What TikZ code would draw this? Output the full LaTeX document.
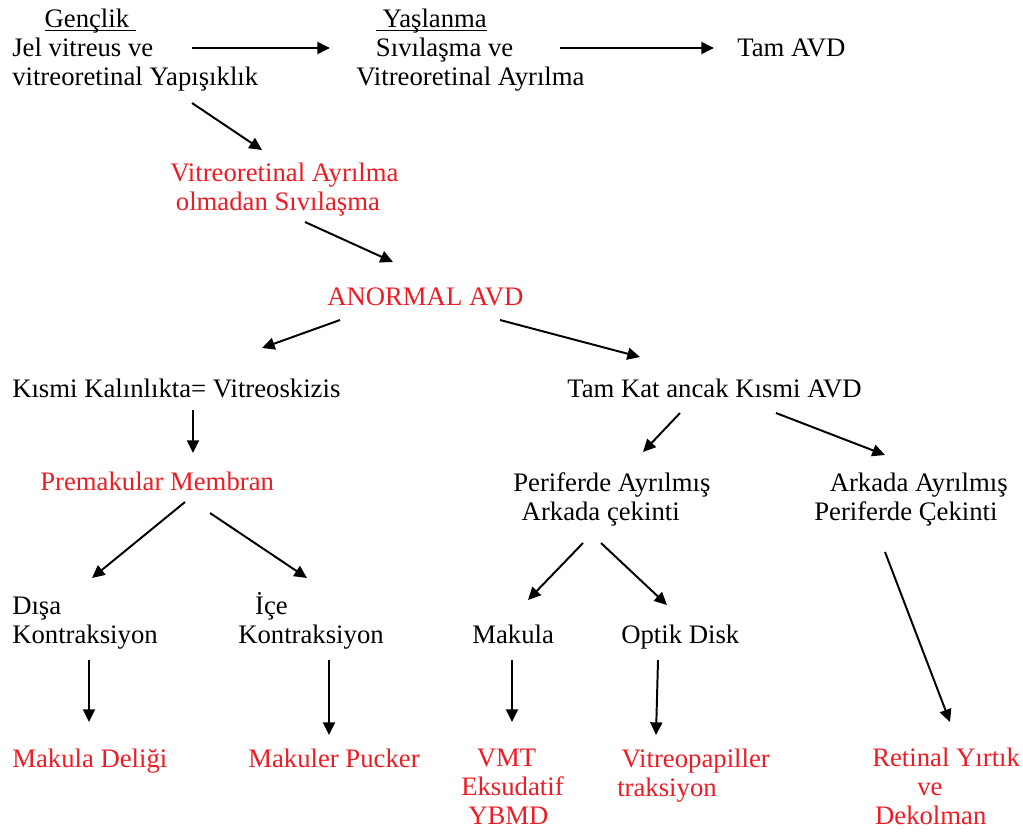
\documentclass[tikz,border=0pt]{standalone}
\usepackage{fontspec}
\setmainfont{Liberation Serif}
\usetikzlibrary{arrows.meta, positioning, calc}
\definecolor{stagered}{RGB}{237,28,36}
\newcommand{\stagetitle}[1]{\underline{\smash{#1}\rule[-1pt]{0pt}{1pt}}}

\begin{document}
\begin{tikzpicture}[
    x=0.025cm, y=-0.025cm,
    stage/.style={inner sep=0pt, anchor=base west, align=left, font=\fontsize{19pt}{20.6pt}\selectfont},
    finding/.style={stage, text=stagered},
    arrow/.style={-{Triangle[length=9pt, width=8.5pt]}, line width=1.4pt}
]
\useasboundingbox (0,0) rectangle (1023,831);

% Top row (nodes sit on the baseline of their last line)
\node[stage] (genclik) at (12,85) {\hspace*{23pt}\stagetitle{Gençlik\ }\\Jel vitreus ve\\vitreoretinal Yapışıklık};
\node[stage] (yaslanma) at (356,85) {\hspace*{14pt}\stagetitle{\ Yaşlanma}\\\hspace*{14pt}Sıvılaşma ve\\Vitreoretinal Ayrılma};
\node[stage] (tamavd) at (737,56) {Tam AVD};

% Middle
\node[finding] (sivilasma) at (170,210) {Vitreoretinal Ayrılma\\\hspace*{4pt}olmadan Sıvılaşma};
\node[finding] (anormal) at (327,305) {ANORMAL AVD};
\node[stage] (kismi) at (12,397) {Kısmi Kalınlıkta= Vitreoskizis};
\node[stage] (tamkat) at (567,397) {Tam Kat ancak Kısmi AVD};
\node[finding] (premak) at (40,490) {Premakular Membran};
\node[stage] (periferde) at (513,520) {Periferde Ayrılmış\\\hspace*{6pt}Arkada çekinti};
\node[stage] (arkada) at (814,520) {\hspace*{11pt}Arkada Ayrılmış\\Periferde Çekinti};

% Lower row
\node[stage] (disa) at (12,643) {Dışa\\Kontraksiyon};
\node[stage] (ice) at (238,643) {\hspace*{12pt}İçe\\Kontraksiyon};
\node[stage] (makula) at (472,643) {Makula};
\node[stage] (optik) at (621,643) {Optik Disk};

% Results
\node[finding] (delik) at (12,767) {Makula Deliği};
\node[finding] (pucker) at (248,767) {Makuler Pucker};
\node[finding] (vmt) at (461,824) {\hspace*{11pt}VMT\\Eksudatif\\\hspace*{5pt}YBMD};
\node[finding] (papiller) at (617,796) {\hspace*{3pt}Vitreopapiller\\traksiyon};
\node[finding] (yirtik) at (872,824) {Retinal Yırtık\\\hspace*{32pt}ve\\\hspace*{2pt}Dekolman};

% Connections
\draw[arrow] ($(genclik.base west)+(180,-37)$) -- ($(yaslanma.base west)+(-26,-37)$);
\draw[arrow] ($(yaslanma.base west)+(204,-37)$) -- ($(tamavd.base west)+(-23,-8)$);
\draw[arrow] ($(genclik.base west)+(180,18)$) -- ($(sivilasma.base west)+(92,-60)$);
\draw[arrow] ($(sivilasma.base west)+(135,12)$) -- ($(anormal.base west)+(66,-43)$);
\draw[arrow] ($(anormal.base west)+(13,15)$) -- ($(kismi.base west)+(250,-49)$);
\draw[arrow] ($(anormal.base west)+(173,15)$) -- ($(tamkat.base west)+(73,-40)$);
\draw[arrow] ($(kismi.base west)+(181,13)$) -- ($(premak.base west)+(153,-37)$);
\draw[arrow] ($(tamkat.base west)+(113,16)$) -- ($(periferde.base west)+(130,-68)$);
\draw[arrow] ($(tamkat.base west)+(209,16)$) -- ($(arkada.base west)+(71,-65)$);
\draw[arrow] ($(premak.base west)+(145,12)$) -- ($(disa.base west)+(80,-65)$);
\draw[arrow] ($(premak.base west)+(170,23)$) -- ($(ice.base west)+(69,-65)$);
\draw[arrow] ($(periferde.base west)+(70,23)$) -- ($(makula.base west)+(56,-43)$);
\draw[arrow] ($(periferde.base west)+(88,23)$) -- ($(optik.base west)+(46,-38)$);
\draw[arrow] ($(arkada.base west)+(71,32)$) -- ($(yirtik.base west)+(78,-102)$);
\draw[arrow] ($(disa.base west)+(77,17)$) -- ($(delik.base west)+(77,-45)$);
\draw[arrow] ($(ice.base west)+(91,17)$) -- ($(pucker.base west)+(81,-32)$);
\draw[arrow] ($(makula.base west)+(40,17)$) -- ($(vmt.base west)+(51,-102)$);
\draw[arrow] ($(optik.base west)+(37,17)$) -- ($(papiller.base west)+(39,-61)$);
\end{tikzpicture}
\end{document}
